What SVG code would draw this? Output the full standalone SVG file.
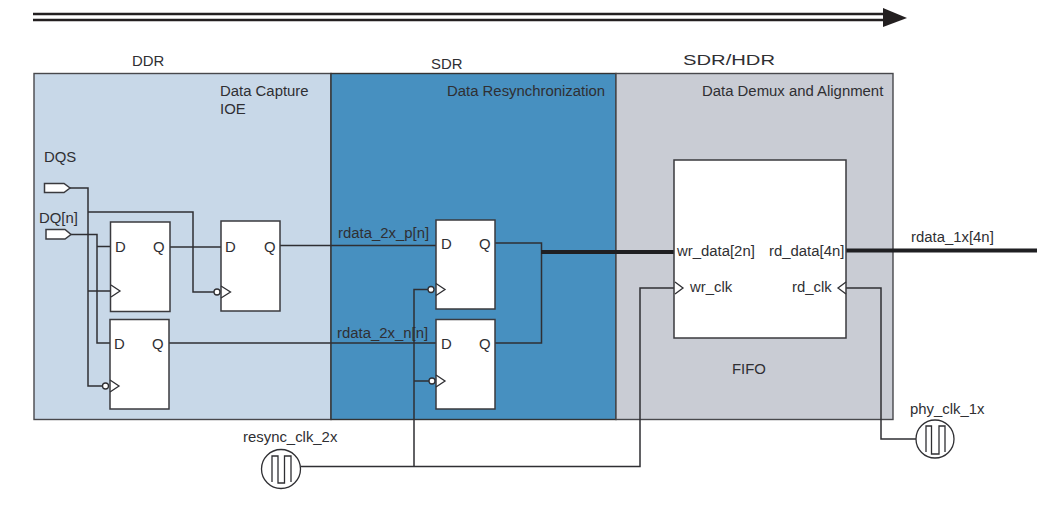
<svg xmlns="http://www.w3.org/2000/svg" width="1051" height="505" viewBox="0 0 1051 505">
<style>
text{font-family:"Liberation Sans",Arial,sans-serif;font-size:14.9px;fill:#2f2f33}
.w{fill:none;stroke:#2f2f33;stroke-width:1.5}
.t{fill:none;stroke:#1f1f22;stroke-width:4}
.b{fill:#fff;stroke:#3a3a3e;stroke-width:1.5}
.c{fill:#fff;stroke:#2f2f33;stroke-width:1.3}
.k{fill:none;stroke:#2f2f33;stroke-width:1.3}
</style>
<rect width="1051" height="505" fill="#fff"/>
<g id="arrow"><path d="M33 14H885M33 20H885" fill="none" stroke="#231f20" stroke-width="2.4"/><polygon points="883,8 907,18 883,27" fill="#231f20"/></g>
<g id="ddr"><rect x="34" y="73.500" width="297" height="346" fill="#c8d8e8" stroke="#48484c" stroke-width="1.400"/><text x="132" y="66">DDR</text><text x="220" y="96">Data Capture</text><text x="220" y="114">IOE</text></g>
<g id="sdr"><rect x="331" y="73.500" width="285" height="346" fill="#4790c0" stroke="#333" stroke-width="1.400"/><text x="431" y="69">SDR</text><text x="447" y="96">Data Resynchronization</text></g>
<g id="hdr"><rect x="616" y="73.500" width="277" height="346" fill="#c9ccd4" stroke="#48484c" stroke-width="1.400"/><text x="683" y="65" style="font-size:15.500px" textLength="92" lengthAdjust="spacingAndGlyphs">SDR/HDR</text><text x="702" y="96">Data Demux and Alignment</text></g>
<g id="connectors">
<path class="w" d="M70 188H88V386H102M88 212H193V292H214M88 291H111"/>
<path class="w" d="M71 234.500H97V343H110M97 246.500H111"/>
<path class="w" d="M170 247H221M280 245.500H436M169 343H436"/>
<path class="w" d="M495 243H541.500V343H495"/>
<path class="t" d="M541 252H674M846 250.500H1037"/>
<path class="w" d="M301 466.500H640V288H674M414 466.500V289.500H428M414 381H429"/>
<path class="w" d="M846 288H881V439H916"/>
</g>
<g id="dqs"><polygon class="b" points="44.500,183.500 64,183.500 70,188 64,192.500 44.500,192.500"/><text x="44" y="162">DQS</text></g>
<g id="dq"><polygon class="b" points="46,229.500 65,229.500 71,234.500 65,239 46,239"/><text x="39" y="223">DQ[n]</text></g>
<g id="ff1"><rect class="b" x="110.500" y="222" width="59.500" height="89.500"/><polyline class="k" points="111,285 120,291 111,297"/><text x="115" y="252">D</text><text x="153" y="252">Q</text></g>
<g id="ff2"><rect class="b" x="221" y="221" width="59" height="90"/><polyline class="k" points="221,286 230.500,292 221,298"/><circle class="c" cx="217" cy="292" r="3"/><text x="225" y="252">D</text><text x="264" y="252">Q</text></g>
<g id="ff3"><rect class="b" x="110" y="319.500" width="59" height="89.500"/><polyline class="k" points="110,380 119,386 110,392"/><circle class="c" cx="105.500" cy="386" r="3"/><text x="114" y="349">D</text><text x="152" y="349">Q</text></g>
<g id="ff4"><rect class="b" x="436" y="220" width="59" height="89"/><polyline class="k" points="436,283.500 445,289.500 436,295.500"/><circle class="c" cx="431" cy="289.500" r="3"/><text x="441" y="249">D</text><text x="479" y="249">Q</text></g>
<g id="ff5"><rect class="b" x="436" y="319.500" width="59" height="89.500"/><polyline class="k" points="436,375 445,381 436,387"/><circle class="c" cx="432" cy="381" r="3"/><text x="441" y="349">D</text><text x="479" y="349">Q</text></g>
<g id="fifo"><rect class="b" x="674" y="160" width="172" height="178"/><polyline class="k" points="675,282 683,288 675,294"/><polyline class="k" points="846,282 838,288 846,294"/><text x="677" y="256">wr_data[2n]</text><text x="769" y="256">rd_data[4n]</text><text x="690" y="292">wr_clk</text><text x="792" y="292">rd_clk</text><text x="732" y="374">FIFO</text></g>
<g id="resync"><circle class="c" cx="281" cy="469" r="19.500"/><path class="k" d="M272 482V456H278V483H284.500V456H291V482"/><text x="243" y="442">resync_clk_2x</text></g>
<g id="phy"><circle class="c" cx="935" cy="439" r="19"/><path class="k" d="M926 452V426H931.500V454H939V426H945V452"/><text x="910" y="414">phy_clk_1x</text></g>
<g id="labels"><text x="338" y="238">rdata_2x_p[n]</text><text x="337" y="338">rdata_2x_n[n]</text><text x="911" y="242">rdata_1x[4n]</text></g>
</svg>
